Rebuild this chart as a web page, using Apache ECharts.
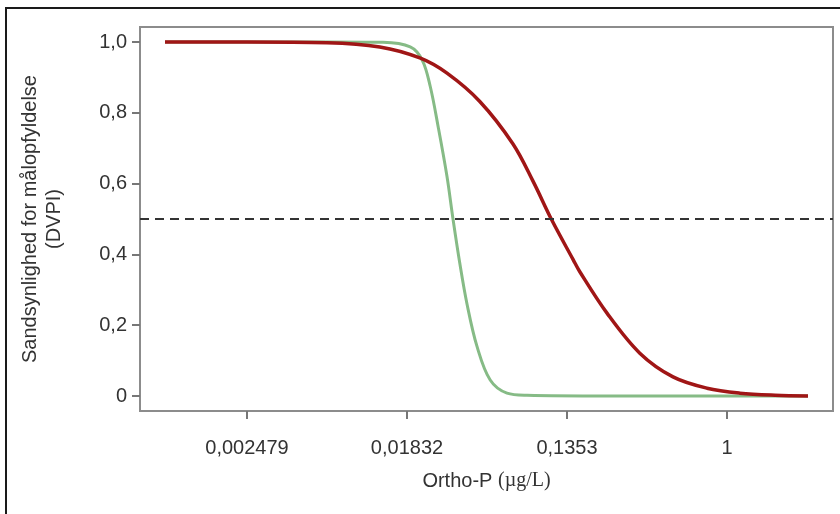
<!DOCTYPE html>
<html><head><meta charset="utf-8">
<script src="https://cdn.jsdelivr.net/npm/echarts@6/dist/echarts.min.js"></script>
<style>html,body{margin:0;padding:0;background:#fff}#c{width:840px;height:514px}</style>
</head><body><div id="c"></div>
<script>
// x values are ln(Ortho-P, µg/L)
const redLn   = [-7.025, -6.0, -5.0, -4.34, -3.84, -3.5, -3.09, -2.675, -2.425, -2.19, -1.925, -1.84, -1.5, -1.09, -0.675, -0.25, 0.16, 0.6, 1.0125];
const redP    = [1.000, 1.000, 0.998, 0.986, 0.955, 0.912, 0.832, 0.712, 0.607, 0.497, 0.386, 0.351, 0.234, 0.121, 0.054, 0.022, 0.008, 0.002, 0.000];
const greenLn = [-7.025, -5.0, -4.3, -3.96, -3.81, -3.71, -3.61, -3.5, -3.425, -3.34, -3.25, -3.125, -2.96, -2.75, -2.5, -1.5, 1.0125];
const greenP  = [1.000, 1.000, 0.999, 0.986, 0.949, 0.875, 0.760, 0.620, 0.500, 0.375, 0.260, 0.140, 0.045, 0.008, 0.002, 0.000, 0.000];
const threshold = 0.5;
const xTickLn = [-6, -4, -2, 0];
const xTickLabels = ['0,002479', '0,01832', '0,1353', '1'];
const yTicks = [0, 0.2, 0.4, 0.6, 0.8, 1.0];
const yTickLabels = ['0', '0,2', '0,4', '0,6', '0,8', '1,0'];
const xTitle = 'Ortho-P ';
const xUnit = '(µg/L)';
const yTitle = 'Sandsynlighed for målopfyldelse\n(DVPI)';

const font = '"Liberation Sans", Arial, sans-serif';
const pairs = (xs, ys) => xs.map((x, i) => [x, ys[i]]);
const chart = echarts.init(document.getElementById('c'), null, {renderer: 'canvas'});
chart.setOption({
  animation: false,
  backgroundColor: '#ffffff',
  graphic: [{
    type: 'rect', silent: true, z: 100,
    shape: {x: 6, y: 8, width: 1000, height: 1000},
    style: {fill: 'none', stroke: '#1a1a1a', lineWidth: 2}
  }],
  grid: {left: 140, right: 7, top: 27, bottom: 103, show: true, borderColor: '#8c8c8c', borderWidth: 2, containLabel: false},
  xAxis: {
    type: 'value', min: -7.3375, max: 1.325,
    splitLine: {show: false},
    axisLine: {show: false, onZero: false},
    axisTick: {show: true, customValues: xTickLn, length: 8, lineStyle: {color: '#777', width: 2}},
    axisLabel: {customValues: xTickLn, margin: 27, fontSize: 20, color: '#333', fontFamily: font,
      formatter: v => xTickLabels[xTickLn.indexOf(v)] ?? ''},
    name: xTitle + '{u|' + xUnit + '}', nameLocation: 'middle', nameGap: 60,
    nameTextStyle: {fontSize: 20, color: '#333', fontFamily: font,
      rich: {u: {fontSize: 20, color: '#333', fontFamily: '"Liberation Serif", "Times New Roman", serif'}}}
  },
  yAxis: {
    type: 'value', min: -0.0424, max: 1.0424,
    splitLine: {show: false},
    axisLine: {show: false, onZero: false},
    axisTick: {show: true, customValues: yTicks, length: 8, lineStyle: {color: '#777', width: 2}},
    axisLabel: {customValues: yTicks, margin: 13, fontSize: 20, color: '#333', fontFamily: font,
      formatter: v => { const i = yTicks.findIndex(t => Math.abs(t - v) < 1e-9); return i >= 0 ? yTickLabels[i] : ''; }},
    name: yTitle, nameLocation: 'middle', nameGap: 74, nameRotate: 90,
    nameTextStyle: {fontSize: 20, lineHeight: 24, color: '#333', fontFamily: font, align: 'center'}
  },
  series: [
    {type: 'line', name: 'green', data: pairs(greenLn, greenP), showSymbol: false, smooth: 0.35,
     lineStyle: {color: '#86bb86', width: 3}, z: 2},
    {type: 'line', name: 'red', data: pairs(redLn, redP), showSymbol: false, smooth: 0.35,
     lineStyle: {color: '#a01616', width: 3.5}, z: 3,
     markLine: {silent: true, symbol: 'none', label: {show: false},
       lineStyle: {color: '#333', type: [9, 6], width: 2},
       data: [{yAxis: threshold}]}}
  ]
});
</script></body></html>
